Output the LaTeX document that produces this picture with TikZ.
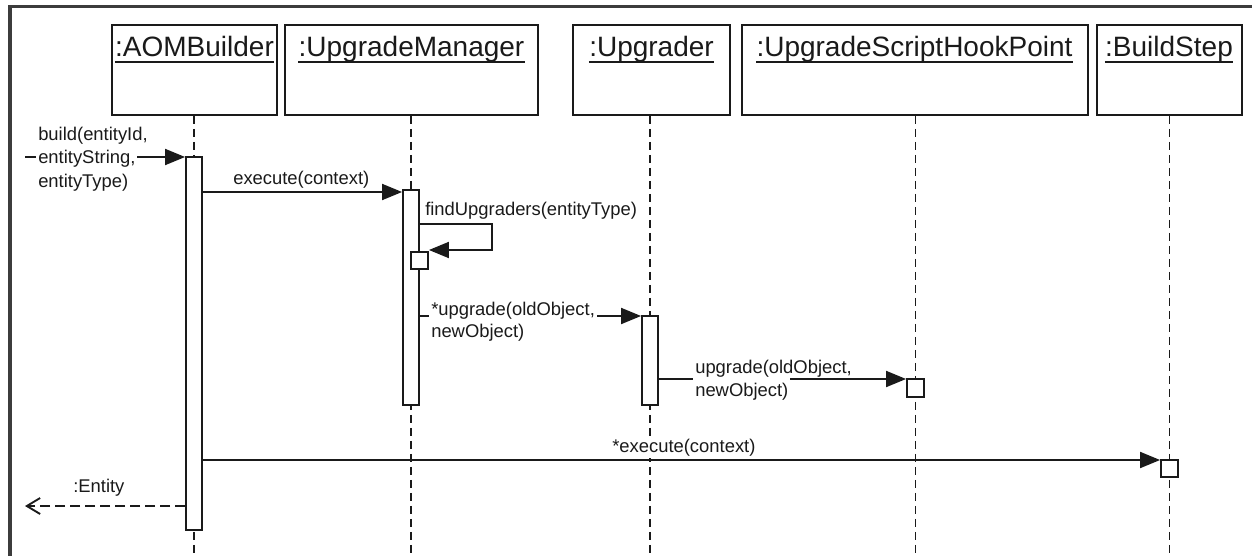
\documentclass[tikz,border=0pt]{standalone}
\usepackage{fontspec}
\setmainfont{Liberation Sans}
\usetikzlibrary{arrows.meta,fit}
\definecolor{ink}{HTML}{1A1A1A}
\definecolor{framegray}{HTML}{3C3C3C}
\begin{document}
\begin{tikzpicture}[x=0.75pt,y=-0.75pt,
  headbox/.style={draw=ink, line width=1.4pt, inner sep=0pt, fill=white},
  headlabel/.style={font=\fontsize{21}{25}\selectfont, inner sep=0pt, anchor=base, text=ink},
  uline/.style={draw=ink, line width=1.1pt},
  lifeline/.style={draw=ink, line width=1.45pt, dash pattern=on 6pt off 3.75pt},
  actbar/.style={draw=ink, fill=white, line width=1.4pt, inner sep=0pt},
  msg/.style={draw=ink, line width=1.4pt, -{Triangle[length=15pt,width=12pt]}},
  retmsg/.style={draw=ink, line width=1.4pt, dash pattern=on 7.5pt off 3.75pt, -{Straight Barb[length=10pt,width=12pt]}},
  mlabel/.style={font=\fontsize{13.8}{17}\selectfont, fill=white, inner sep=1.5pt, anchor=base west, text=ink},
  framepen/.style={draw=framegray, line width=2.8pt}
]
\useasboundingbox (0,0) rectangle (1252,556);
\fill[white] (0,0) rectangle (1252,556);
% frame
\coordinate (fTR) at (1252,6.5);
\coordinate (fTL) at (10.3,6.5);
\coordinate (fBL) at (10.3,556);
\draw[framepen] (fTR) -- (fTL) -- (fBL);

% header boxes
\node[headbox, fit={(112,25) (277,115)}] (bA) {};
\node[headbox, fit={(285,25) (538,115)}] (bM) {};
\node[headbox, fit={(573,25) (730,115)}] (bU) {};
\node[headbox, fit={(742,25) (1088,115)}] (bH) {};
\node[headbox, fit={(1097,25) (1242,115)}] (bB) {};

\node[headlabel] (lA) at (194.5,57) {:AOMBuilder};
\node[headlabel] (lM) at (411.5,57) {:UpgradeManager};
\node[headlabel] (lU) at (651.5,57) {:Upgrader};
\node[headlabel] (lH) at (914.5,57) {:UpgradeScriptHookPoint};
\node[headlabel] (lB) at (1169,57) {:BuildStep};
\foreach \n in {lA,lM,lU,lH,lB}
  \draw[uline] ([yshift=-3.6pt]\n.base west) -- ([yshift=-3.6pt]\n.base east);

% lifelines
\coordinate (eA) at (194,556);
\coordinate (eM) at (411,556);
\coordinate (eU) at (650,556);
\coordinate (eH) at (915.5,556);
\coordinate (eB) at (1169.5,556);
\draw[lifeline] (bA.south -| eA) -- (eA);
\draw[lifeline] (bM.south -| eM) -- (eM);
\draw[lifeline] (bU.south -| eU) -- (eU);
\draw[lifeline] (bH.south -| eH) -- (eH);
\draw[lifeline] (bB.south -| eB) -- (eB);

% activation bars
\node[actbar, fit={(186,157) (202,530)}] (aA) {};
\node[actbar, fit={(403,190) (419,405)}] (aM) {};
\node[actbar, fit={(642,316) (658,405)}] (aU) {};
\node[actbar, fit={(411,252) (428,269)}] (nM) {};
\node[actbar, fit={(907,379) (924,397)}] (nH) {};
\node[actbar, fit={(1161,460) (1178,477)}] (nB) {};

% build
\coordinate (sBuild) at (25,157);
\draw[msg] (sBuild) -- (aA.west |- sBuild);
\node[mlabel] (lb1) at (36,141) {build(entityId,};
\node[mlabel] (lb2) at (36,164) {entityString,};
\node[mlabel] (lb3) at (36,187) {entityType)};

% execute(context)
\draw[msg] (aA.east |- 0,192) -- (aM.west |- 0,192);
\node[mlabel] (lx) at (231,184.5) {execute(context)};

% findUpgraders self call
\coordinate (fc1) at (492,224);
\coordinate (fc2) at (492,250);
\draw[msg] (aM.east |- fc1) -- (fc1) -- (fc2) -- (nM.east |- fc2);
\node[mlabel] (lf) at (423,215) {findUpgraders(entityType)};

% *upgrade
\draw[msg] (aM.east |- 0,316) -- (aU.west |- 0,316);
\node[mlabel] (lu1) at (429,315) {*upgrade(oldObject,};
\node[mlabel] (lu2) at (429,337) {newObject)};

% upgrade to hook point
\draw[msg] (aU.east |- 0,379) -- (nH.west |- 0,379);
\node[mlabel, inner ysep=4.5pt] (lh2) at (693,396.5) {newObject)};
\node[mlabel, fill=none] (lh1) at (693,373) {upgrade(oldObject,};

% *execute
\draw[msg] (aA.east |- 0,460) -- (nB.west |- 0,460);
\node[mlabel] (le) at (610,452) {*execute(context)};

% return
\coordinate (rEnd) at (25,506);
\draw[retmsg] (aA.west |- rEnd) -- (rEnd);
\node[mlabel] (lr) at (71,492) {:Entity};
\end{tikzpicture}
\end{document}
